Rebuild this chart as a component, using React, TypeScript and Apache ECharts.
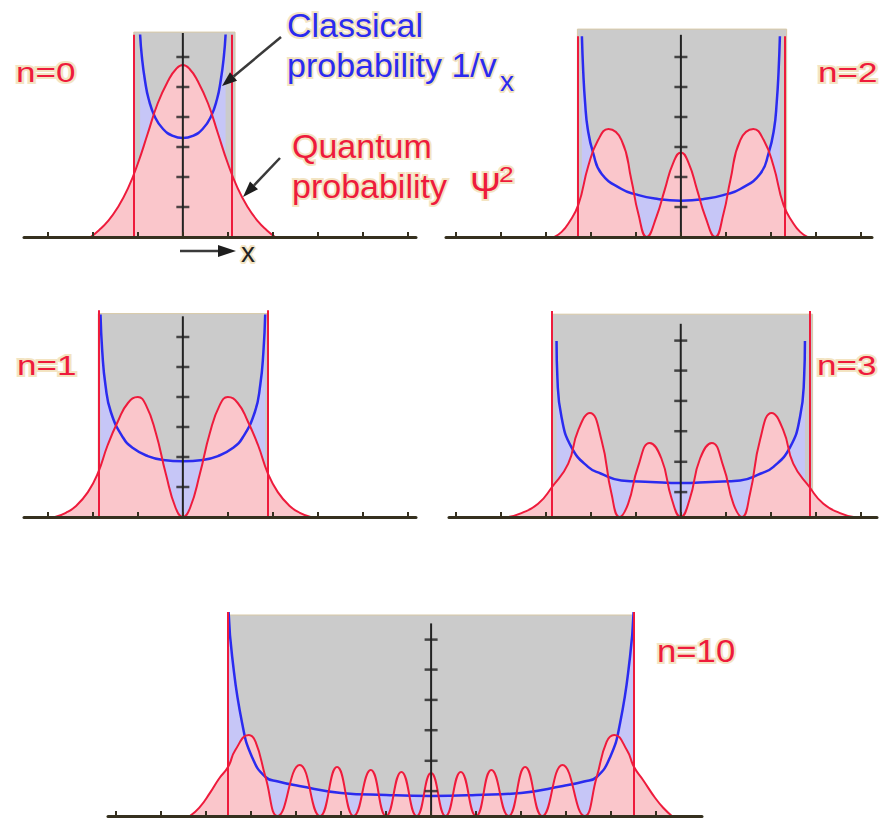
import React, { useEffect, useRef } from "react";
import * as echarts from "echarts";

// ---------- data (x in horizontal tick units, y in vertical tick units) ----------
const panelNames = ["n=0", "n=1", "n=2", "n=3", "n=10"];

const xTicks01 = [-3, -2, -1, 0, 1, 2, 3, 4, 5];
const xTicks23 = [-5, -4, -3, -2, -1, 0, 1, 2, 3, 4];
const xTicks10 = [-7, -6, -5, -4, -3, -2, -1, 0, 1, 2, 3, 4, 5];
const yTicksA = [1, 2, 3, 4, 5, 6];
const yTicksB = [0.83, 1.84, 2.86, 3.87, 4.88, 5.88];

// classical turning points (left, right) and heights of the drawn boxes/lines
const turnLeft = [-1.09, -1.88, -2.3, -2.87, -4.51];
const turnRight = [1.09, 1.88, 2.3, 2.87, 4.51];
const boxRight = [1.16, 1.9, 2.35, 2.93, 4.51];
const boxTop = [6.83, 6.78, 6.93, 6.76, 6.7];
const turnLineTop = [6.74, 6.89, 6.69, 6.87, 6.8];
const axisTop = [6.8, 6.69, 6.74, 6.44, 6.42];

const quantum0 = [[-2.05,0],[-1.87,0.22],[-1.67,0.52],[-1.44,1.0],[-1.22,1.62],[-1.0,2.45],[-0.78,3.45],[-0.56,4.45],[-0.33,5.2],[-0.15,5.6],[0,5.73],[0.15,5.6],[0.33,5.2],[0.56,4.45],[0.78,3.45],[1.0,2.45],[1.22,1.62],[1.44,1.0],[1.67,0.52],[1.87,0.22],[2.05,0]];
const classical0 = [[-0.95,6.75],[-0.91,6.0],[-0.84,5.2],[-0.76,4.6],[-0.62,4.0],[-0.44,3.6],[-0.22,3.37],[0,3.3],[0.22,3.37],[0.44,3.6],[0.62,4.0],[0.76,4.6],[0.84,5.2],[0.91,6.0],[0.95,6.75]];

const quantum1 = [[-2.84,0],[-2.6,0.14],[-2.38,0.36],[-2.11,0.83],[-1.89,1.45],[-1.67,2.4],[-1.44,3.2],[-1.22,3.8],[-1.0,4.0],[-0.82,3.73],[-0.6,2.8],[-0.38,1.45],[-0.16,0.3],[0,0],[0.16,0.3],[0.38,1.45],[0.6,2.8],[0.82,3.73],[1.0,4.0],[1.22,3.8],[1.44,3.2],[1.67,2.4],[1.89,1.45],[2.11,0.83],[2.38,0.36],[2.6,0.14],[2.84,0]];
const classical1 = [[-1.83,6.75],[-1.79,5.5],[-1.72,4.4],[-1.6,3.5],[-1.33,2.65],[-1.11,2.3],[-0.78,2.03],[-0.44,1.9],[0,1.86],[0.44,1.9],[0.78,2.03],[1.11,2.3],[1.33,2.65],[1.6,3.5],[1.72,4.4],[1.79,5.5],[1.83,6.75]];

const quantum2 = [[-2.81,0],[-2.65,0.17],[-2.5,0.45],[-2.28,1.07],[-2.06,2.36],[-1.84,3.23],[-1.61,3.6],[-1.32,3.23],[-1.1,1.9],[-0.95,0.8],[-0.76,0],[-0.54,0.69],[-0.36,1.57],[-0.17,2.47],[0,2.82],[0.17,2.47],[0.36,1.57],[0.54,0.69],[0.76,0],[0.95,0.8],[1.1,1.9],[1.32,3.23],[1.61,3.6],[1.84,3.23],[2.06,2.36],[2.28,1.07],[2.5,0.45],[2.65,0.17],[2.81,0]];
const classical2 = [[-2.2,6.69],[-2.17,5.5],[-2.13,4.5],[-2.07,3.6],[-1.95,2.8],[-1.76,2.1],[-1.32,1.6],[-1.0,1.42],[-0.58,1.28],[0,1.21],[0.58,1.28],[1.0,1.42],[1.32,1.6],[1.76,2.1],[1.95,2.8],[2.07,3.6],[2.13,4.5],[2.17,5.5],[2.2,6.69]];

const quantum3 = [[-3.84,0],[-3.54,0.13],[-3.17,0.44],[-2.86,1.0],[-2.5,1.78],[-2.28,2.89],[-2.02,3.47],[-1.76,2.56],[-1.54,0.78],[-1.36,0],[-1.17,0.44],[-0.95,1.67],[-0.69,2.47],[-0.43,1.95],[-0.2,0.6],[0,0],[0.2,0.6],[0.43,1.95],[0.69,2.47],[0.95,1.67],[1.17,0.44],[1.36,0],[1.54,0.78],[1.76,2.56],[2.02,3.47],[2.28,2.89],[2.5,1.78],[2.86,1.0],[3.17,0.44],[3.54,0.13],[3.84,0]];
const classical3 = [[-2.76,5.87],[-2.74,4.6],[-2.65,3.33],[-2.43,2.33],[-2.06,1.67],[-1.78,1.45],[-1.32,1.22],[-0.67,1.17],[0,1.13],[0.67,1.17],[1.32,1.22],[1.78,1.45],[2.06,1.67],[2.43,2.33],[2.65,3.33],[2.74,4.6],[2.76,5.87]];

const quantum10 = [[-5.36,0],[-5.15,0.28],[-4.91,0.78],[-4.71,1.25],[-4.51,1.64],[-4.35,2.2],[-4.05,2.7],[-3.9,2.47],[-3.68,1.3],[-3.41,0],[-2.92,1.7],[-2.47,0],[-2.09,1.63],[-1.72,0],[-1.34,1.53],[-1.0,0],[-0.66,1.47],[-0.32,0],[0,1.43],[0.32,0],[0.66,1.47],[1.0,0],[1.34,1.53],[1.72,0],[2.09,1.63],[2.47,0],[2.92,1.7],[3.41,0],[3.68,1.3],[3.9,2.47],[4.07,2.7],[4.35,2.2],[4.51,1.63],[4.71,1.2],[4.98,0.6],[5.18,0.24],[5.35,0]];
const classical10 = [[-4.5,6.8],[-4.42,5.3],[-4.2,3.1],[-3.98,1.97],[-3.68,1.3],[-3.4,1.15],[-2.93,1.0],[-2.0,0.77],[-1.0,0.7],[0,0.67],[1.0,0.7],[2.0,0.77],[2.93,1.0],[3.4,1.15],[3.68,1.3],[3.98,1.97],[4.2,3.1],[4.42,5.3],[4.5,6.8]];

const quantumSets = [quantum0, quantum1, quantum2, quantum3, quantum10];
const classicalSets = [classical0, classical1, classical2, classical3, classical10];
const xTickSets = [xTicks01, xTicks01, xTicks23, xTicks23, xTicks10];
const yTickSets = [yTicksA, yTicksA, yTicksA, yTicksB, yTicksB];

// ---------- layout ----------
const UNIT_X = 45;
const layouts = [
  { left: 24, top: 27, width: 392, min: -3.53 },
  { left: 24, top: 307, width: 392, min: -3.53 },
  { left: 446, top: 27, width: 426, min: -5.22 },
  { left: 449, top: 307, width: 428, min: -5.15 },
  { left: 108, top: 606, width: 594, min: -7.18 },
];

const RED = "#ee1b3c";
const BLUE = "#2b2bef";
const GRAY = "#cbcbcb";
const LAVENDER = "#c6c6f7";
const PINK = "#fac6cb";
const AXIS = "#35301f";
const FONT = '"Liberation Sans", Arial, Helvetica, sans-serif';
const HALO = "#f3e4c2";

function haloText(x: number, y: number, text: string, size: number, color: string, scaleX = 1) {
  const base = { type: "text", x, y, scaleX, silent: true };
  return [
    { ...base, z: 100, style: { text, font: `${size}px ${FONT}`, fill: HALO, stroke: HALO, lineWidth: 4, align: "left", verticalAlign: "middle" } },
    { ...base, z: 101, style: { text, font: `${size}px ${FONT}`, fill: color, align: "left", verticalAlign: "middle" } },
  ];
}

function arrow(x1: number, y1: number, tx: number, ty: number, headLen: number, halfW: number) {
  const dx = tx - x1, dy = ty - y1;
  const len = Math.sqrt(dx * dx + dy * dy);
  const ux = dx / len, uy = dy / len;
  const bx = tx - ux * headLen, by = ty - uy * headLen;
  const px = -uy, py = ux;
  return [
    { type: "line", z: 100, silent: true, shape: { x1, y1, x2: bx, y2: by }, style: { stroke: "#3a3a3a", lineWidth: 2.5 } },
    { type: "polygon", z: 100, silent: true, shape: { points: [[tx, ty], [bx + px * halfW, by + py * halfW], [bx - px * halfW, by - py * halfW]] }, style: { fill: "#1e1e1e" } },
  ];
}

export default function App() {
  const ref = useRef<HTMLDivElement>(null);
  useEffect(() => {
    if (!ref.current) return;
    const chart = echarts.init(ref.current, null, { renderer: "svg" });

    const grid: any[] = [];
    const xAxis: any[] = [];
    const yAxis: any[] = [];
    const series: any[] = [];

    layouts.forEach((L, i) => {
      grid.push({ left: L.left, top: L.top, width: L.width, height: 210, containLabel: false });
      xAxis.push({
        type: "value", gridIndex: i, min: L.min, max: L.min + L.width / UNIT_X, z: 10,
        axisLine: { show: true, onZero: false, lineStyle: { color: AXIS, width: 3 } },
        axisTick: { show: true, inside: true, length: 5, customValues: xTickSets[i], lineStyle: { color: AXIS, width: 2 } },
        axisLabel: { show: false }, splitLine: { show: false },
      });
      yAxis.push({ type: "value", gridIndex: i, min: 0, max: 7, show: false });

      const common = { type: "line", xAxisIndex: i, yAxisIndex: i, symbol: "none", silent: true, animation: false };
      series.push({
        ...common, z: 1,
        data: [[turnLeft[i], 0], [turnLeft[i], boxTop[i]], [boxRight[i], boxTop[i]], [boxRight[i], 0]],
        lineStyle: { color: "#d8c9a6", width: 1 }, areaStyle: { color: GRAY, opacity: 1 },
      });
      series.push({
        ...common, z: 2, smooth: true, data: classicalSets[i],
        lineStyle: { width: 0, opacity: 0 }, areaStyle: { color: LAVENDER, opacity: 1 },
      });
      series.push({
        ...common, z: 3, smooth: true, data: quantumSets[i],
        lineStyle: { width: 0, opacity: 0 }, areaStyle: { color: PINK, opacity: 1 },
      });
      series.push({
        ...common, z: 4, smooth: true, data: classicalSets[i],
        lineStyle: { color: BLUE, width: 2.5 },
      });
      series.push({
        ...common, z: 5, smooth: true, data: quantumSets[i],
        lineStyle: { color: RED, width: 2 },
        markLine: {
          silent: true, symbol: ["none", "none"], label: { show: false },
          lineStyle: { color: RED, width: 2, type: "solid" },
          data: [
            [{ coord: [turnLeft[i], 0] }, { coord: [turnLeft[i], turnLineTop[i]] }],
            [{ coord: [turnRight[i], 0] }, { coord: [turnRight[i], turnLineTop[i]] }],
          ],
        },
      });
      series.push({
        ...common, z: 6, data: [[0, 0], [0, axisTop[i]]],
        lineStyle: { color: "#222", width: 2 },
      });
      series.push({
        type: "scatter", xAxisIndex: i, yAxisIndex: i, z: 7, silent: true,
        symbol: "rect", symbolSize: [13, 2.5], itemStyle: { color: "#222" },
        data: yTickSets[i].map((t) => [0, t]),
      });
    });

    const graphic: any[] = [
      ...haloText(16, 73, panelNames[0], 27, RED, 1.3),
      ...haloText(17, 366, panelNames[1], 27, RED, 1.3),
      ...haloText(818, 73, panelNames[2], 27, RED, 1.3),
      ...haloText(817, 366, panelNames[3], 27, RED, 1.3),
      ...haloText(657, 651, panelNames[4], 31, RED, 1.12),
      ...haloText(287, 25, "Classical", 34, BLUE),
      ...haloText(287, 65, "probability 1/v", 34, BLUE),
      ...haloText(500, 81, "x", 28, BLUE),
      ...haloText(292, 146, "Quantum", 34, RED),
      ...haloText(292, 186, "probability", 34, RED),
      ...haloText(470, 186, "\u03A8", 37, RED),
      ...haloText(499, 174, "2", 22, RED, 1.2),
      ...haloText(241, 252, "x", 28, "#222"),
      ...arrow(281, 37, 222, 86, 15, 5.5),
      ...arrow(280, 158, 243, 197, 16, 5.5),
      ...arrow(180, 251, 236, 251, 18, 6),
    ];

    chart.setOption({ animation: false, grid, xAxis, yAxis, series, graphic });
    return () => chart.dispose();
  }, []);
  return <div ref={ref} style={{ position: "absolute", left: 0, top: 0, width: 889, height: 819, background: "#fff" }} />;
}
